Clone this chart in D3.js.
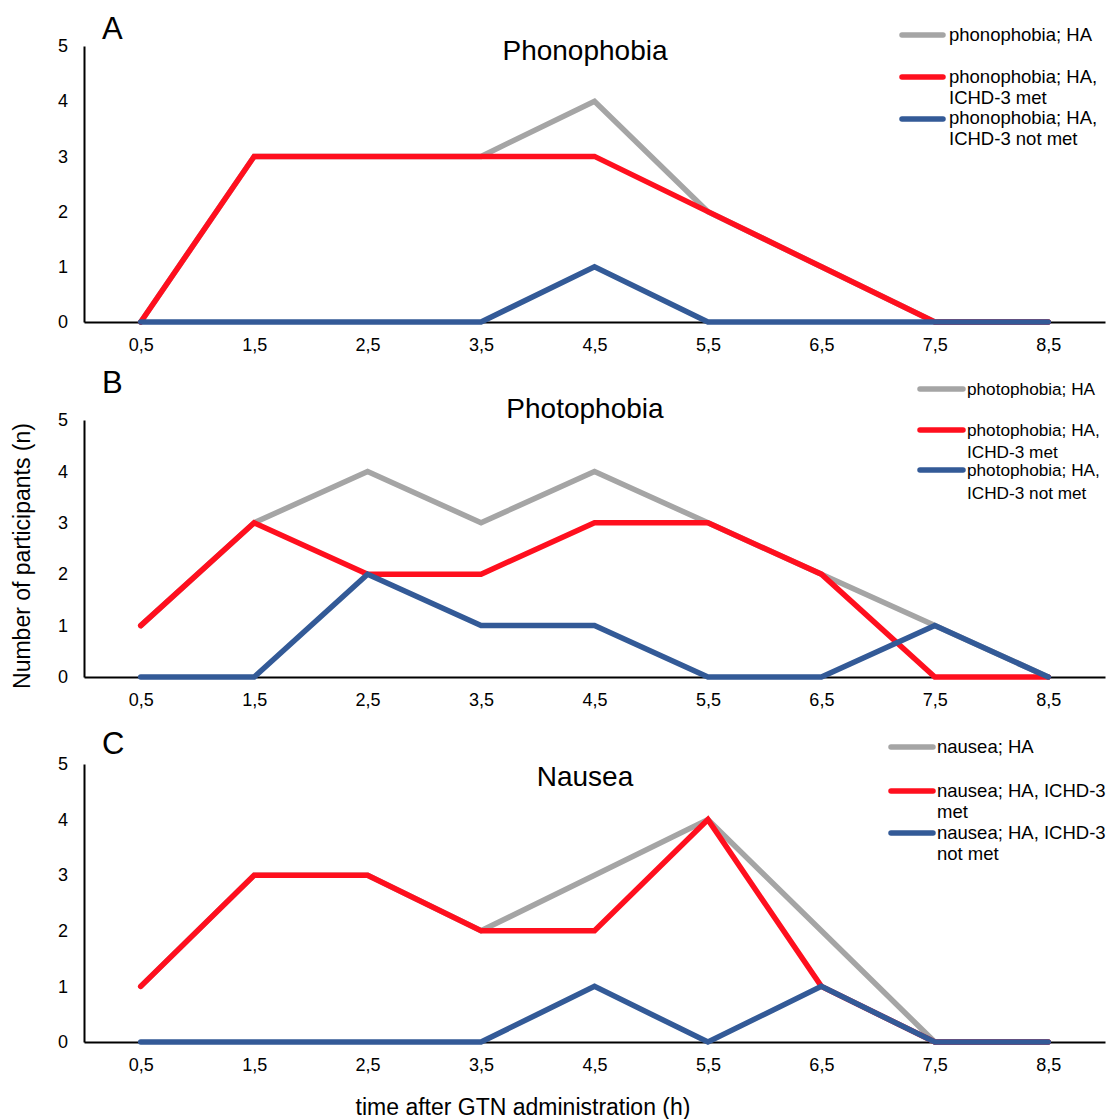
<!DOCTYPE html>
<html>
<head>
<meta charset="utf-8">
<script src="https://cdn.jsdelivr.net/npm/d3@7"></script>
<style>
  body { margin: 0; background: #fff; }
  text { font-family: "Liberation Sans", Arial, sans-serif; fill: #000; }
</style>
</head>
<body>
<svg id="chart" width="1111" height="1119"></svg>
<script>
// time points (h)
const times = ["0,5", "1,5", "2,5", "3,5", "4,5", "5,5", "6,5", "7,5", "8,5"];
const yTicks = [0, 1, 2, 3, 4, 5];

// A: phonophobia
const phonoHA = [0, 3, 3, 3, 4, 2, 1, 0, 0];
const phonoMet = [0, 3, 3, 3, 3, 2, 1, 0, 0];
const phonoNotMet = [0, 0, 0, 0, 1, 0, 0, 0, 0];

// B: photophobia
const photoHA = [1, 3, 4, 3, 4, 3, 2, 1, 0];
const photoMet = [1, 3, 2, 2, 3, 3, 2, 0, 0];
const photoNotMet = [0, 0, 2, 1, 1, 0, 0, 1, 0];

// C: nausea
const nauseaHA = [1, 3, 3, 2, 3, 4, 2, 0, 0];
const nauseaMet = [1, 3, 3, 2, 2, 4, 1, 0, 0];
const nauseaNotMet = [0, 0, 0, 0, 1, 0, 1, 0, 0];

const colors = { ha: "#a5a5a5", met: "#ff0f1e", notMet: "#335a97" };

const panels = [
  { letter: "A", title: "Phonophobia", top: 46, bottom: 322, letterY: 39, titleY: 60,
    series: [phonoHA, phonoMet, phonoNotMet],
    legend: { x1: 902, x2: 943, tx: 949, font: 18.5, rows: [
      { y: 35, dy: 6, gap: 21, lines: ["phonophobia; HA"], color: colors.ha },
      { y: 77, dy: 6, gap: 21, lines: ["phonophobia; HA,", "ICHD-3 met"], color: colors.met },
      { y: 119, dy: 5, gap: 21, lines: ["phonophobia; HA,", "ICHD-3 not met"], color: colors.notMet } ] } },
  { letter: "B", title: "Photophobia", top: 420, bottom: 677, letterY: 393, titleY: 418,
    series: [photoHA, photoMet, photoNotMet],
    legend: { x1: 920, x2: 963, tx: 967, font: 17.2, rows: [
      { y: 389, dy: 6, gap: 22, lines: ["photophobia; HA"], color: colors.ha },
      { y: 430, dy: 6, gap: 22, lines: ["photophobia; HA,", "ICHD-3 met"], color: colors.met },
      { y: 470, dy: 6, gap: 23, lines: ["photophobia; HA,", "ICHD-3 not met"], color: colors.notMet } ] } },
  { letter: "C", title: "Nausea", top: 764, bottom: 1042, letterY: 754, titleY: 786,
    series: [nauseaHA, nauseaMet, nauseaNotMet],
    legend: { x1: 891, x2: 933, tx: 937, font: 18.5, rows: [
      { y: 747, dy: 6, gap: 21, lines: ["nausea; HA"], color: colors.ha },
      { y: 791, dy: 6, gap: 21, lines: ["nausea; HA, ICHD-3", "met"], color: colors.met },
      { y: 833, dy: 6, gap: 21, lines: ["nausea; HA, ICHD-3", "not met"], color: colors.notMet } ] } }
];

const svg = d3.select("#chart");
const x = d3.scalePoint().domain(times).range([84, 1105]).padding(0.5);
const lineColors = [colors.ha, colors.met, colors.notMet];

panels.forEach(p => {
  const y = d3.scaleLinear().domain([0, 5]).range([p.bottom, p.top]);
  const g = svg.append("g");

  // axes
  const yAxis = g.append("g").attr("transform", "translate(84,0)")
    .call(d3.axisLeft(y).tickValues(yTicks).tickFormat(d3.format("d")).tickSize(0).tickPadding(16));
  yAxis.select(".domain").attr("stroke", "#000").attr("stroke-width", 2);
  yAxis.selectAll("text").style("font-size", "18px");

  const xAxis = g.append("g").attr("transform", `translate(0,${p.bottom})`)
    .call(d3.axisBottom(x).tickSize(0).tickPadding(16).tickSizeOuter(0));
  xAxis.select(".domain").attr("stroke", "#000").attr("stroke-width", 2);
  xAxis.selectAll("text").style("font-size", "18px");

  // lines
  const line = d3.line().x((d, i) => x(times[i])).y(d => y(d));
  p.series.forEach((s, i) => {
    g.append("path").datum(s).attr("d", line)
      .attr("fill", "none").attr("stroke", lineColors[i])
      .attr("stroke-width", 5.5).attr("stroke-linecap", "round").attr("stroke-linejoin", "miter");
  });

  // panel letter and title
  g.append("text").attr("x", 102).attr("y", p.letterY).text(p.letter).style("font-size", "31px");
  g.append("text").attr("x", 585).attr("y", p.titleY).attr("text-anchor", "middle")
    .text(p.title).style("font-size", "28px");

  // legend
  p.legend.rows.forEach(r => {
    g.append("line").attr("x1", p.legend.x1).attr("x2", p.legend.x2)
      .attr("y1", r.y).attr("y2", r.y).attr("stroke", r.color)
      .attr("stroke-width", 5.5).attr("stroke-linecap", "round");
    r.lines.forEach((t, k) => {
      g.append("text").attr("x", p.legend.tx).attr("y", r.y + r.dy + k * r.gap)
        .text(t).style("font-size", p.legend.font + "px");
    });
  });
});

// axis titles
svg.append("text").attr("transform", "translate(30,556) rotate(-90)")
  .attr("text-anchor", "middle").text("Number of participants (n)").style("font-size", "23px");
svg.append("text").attr("x", 523).attr("y", 1115).attr("text-anchor", "middle")
  .text("time after GTN administration (h)").style("font-size", "23px");
</script>
</body>
</html>
